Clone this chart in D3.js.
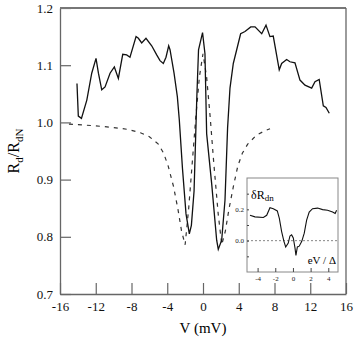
<!DOCTYPE html>
<html>
<head>
<meta charset="utf-8">
<script src="https://cdn.jsdelivr.net/npm/d3@7"></script>
<style>
  body { margin: 0; background: #fff; }
  svg text { font-family: "Liberation Serif", "DejaVu Serif", serif; }
</style>
</head>
<body>
<div id="chart"></div>
<script>
// measured curve, V (mV) and Rd/RdN
const measV = [-14.1, -13.95, -13.6, -13.0, -12.45, -11.97, -11.7, -11.33, -10.96, -10.4, -9.92, -9.47, -8.98, -8.54, -8.17,
  -7.49, -7.23, -6.86, -6.38, -5.74, -5.18, -4.81, -4.44, -4.14, -3.84, -3.69, -3.24, -2.87, -2.65, -2.3, -1.9, -1.53,
  -1.3, -1.0, -0.7, -0.5, -0.05, 0.22, 0.41, 0.97, 1.53, 1.71, 2.09, 2.46, 2.75, 3.02, 3.39, 3.77, 4.21, 4.7, 5.34, 5.82,
  6.57, 7.05, 7.49, 7.86, 8.53, 8.8, 9.36, 9.73, 10.29, 10.85, 11.41, 12.16, 12.53, 13.0, 13.46, 13.76, 14.13];
const measR = [1.068, 1.011, 1.007, 1.039, 1.086, 1.112, 1.086, 1.057, 1.062, 1.086, 1.097, 1.077, 1.119, 1.118, 1.114,
  1.15, 1.147, 1.139, 1.147, 1.134, 1.118, 1.108, 1.103, 1.114, 1.134, 1.127, 1.086, 1.045, 1.004, 0.92, 0.84, 0.805,
  0.82, 0.88, 1.04, 1.127, 1.157, 1.12, 0.98, 0.893, 0.794, 0.778, 0.794, 0.864, 0.99, 1.06, 1.103, 1.127, 1.155, 1.159,
  1.167, 1.167, 1.155, 1.17, 1.15, 1.151, 1.092, 1.103, 1.11, 1.106, 1.104, 1.074, 1.065, 1.06, 1.071, 1.075, 1.029,
  1.026, 1.016];

// calculated curve (dashed)
const calcV = [-15, -14, -12, -10, -8.5, -7, -6, -5, -4.4, -3.9, -3.3, -2.8, -2.4, -2.0, -1.6, -1.2, -0.8, -0.4, 0,
  0.4, 0.8, 1.2, 1.7, 2.1, 2.5, 2.9, 3.4, 3.9, 4.4, 5.0, 6.0, 7.0, 7.5];
const calcR = [0.997, 0.996, 0.994, 0.991, 0.988, 0.982, 0.975, 0.962, 0.946, 0.924, 0.888, 0.848, 0.81, 0.786, 0.85,
  0.93, 1.01, 1.08, 1.12, 1.08, 1.01, 0.93, 0.84, 0.786, 0.81, 0.848, 0.888, 0.924, 0.946, 0.962, 0.978, 0.986, 0.989];

// inset: eV/Delta and dR_dn
const insetX = [-4.86, -4.3, -3.35, -2.97, -2.6, -2.22, -1.77, -1.54, -1.28, -1.02, -0.82, -0.53, -0.34, -0.15, 0.04,
  0.23, 0.34, 0.5, 0.71, 1.0, 1.28, 1.55, 1.84, 2.22, 2.79, 3.36, 3.92, 4.49, 4.78, 4.94];
const insetY = [0.162, 0.152, 0.148, 0.162, 0.21, 0.204, 0.19, 0.142, 0.058, -0.004, -0.04, -0.015, 0.03, 0.037, 0.017,
  -0.046, -0.094, -0.04, -0.035, -0.004, 0.048, 0.131, 0.183, 0.204, 0.208, 0.198, 0.194, 0.183, 0.173, 0.194];

const xTicks = [-16, -12, -8, -4, 0, 4, 8, 12, 16];
const yTicks = [0.7, 0.8, 0.9, 1.0, 1.1, 1.2];
const insetXTicks = [-4, -2, 0, 2, 4];
const insetYTicks = [-0.1, 0, 0.1, 0.2, 0.3];
const insetYLabels = [0, 0.2];

const margin = {top: 8, right: 8, bottom: 48, left: 60};
const W = 354, H = 342;
const width = W - margin.left - margin.right;
const height = H - margin.top - margin.bottom;

const svg = d3.select("#chart").append("svg")
    .attr("width", W)
    .attr("height", H);
const g = svg.append("g")
    .attr("transform", "translate(" + margin.left + "," + margin.top + ")");

const x = d3.scaleLinear().domain([-16, 16]).range([0, width]);
const y = d3.scaleLinear().domain([0.7, 1.2]).range([height, 0]);

const axisCol = "#666";

// x axis, ticks pointing inward
const xAx = g.append("g")
    .attr("transform", "translate(0," + height + ")")
    .call(d3.axisBottom(x).tickValues(xTicks).tickSizeInner(-11).tickSizeOuter(0).tickPadding(6).tickFormat(d3.format("d")));
xAx.select(".domain").attr("stroke", axisCol).attr("stroke-width", 1.3);
xAx.selectAll(".tick line").attr("stroke", axisCol).attr("stroke-width", 1.2);
xAx.selectAll(".tick text").attr("font-size", 13).attr("fill", "#111").attr("dy", "0.9em").attr("y", 5)
    .text(d => d < 0 ? "-" + Math.abs(d) : d);

// y axis
const yAx = g.append("g")
    .call(d3.axisLeft(y).tickValues(yTicks).tickSizeInner(-11).tickSizeOuter(0).tickPadding(7).tickFormat(d3.format(".1f")));
yAx.select(".domain").attr("stroke", axisCol).attr("stroke-width", 1.3);
yAx.selectAll(".tick line").attr("stroke", axisCol).attr("stroke-width", 1.2);
yAx.selectAll(".tick text").attr("font-size", 13).attr("fill", "#111");

// frame top and right
g.append("line").attr("x1", 0).attr("x2", width).attr("y1", 0).attr("y2", 0)
    .attr("stroke", "#777").attr("stroke-width", 2);
g.append("line").attr("x1", width).attr("x2", width).attr("y1", 0).attr("y2", height)
    .attr("stroke", axisCol).attr("stroke-width", 1.3);

const line = d3.line().x(d => x(d[0])).y(d => y(d[1]));

g.append("path")
    .datum(calcV.map((v, i) => [v, calcR[i]]))
    .attr("d", line)
    .attr("fill", "none")
    .attr("stroke", "#333")
    .attr("stroke-width", 1.2)
    .attr("stroke-dasharray", "4,5");

g.append("path")
    .datum(measV.map((v, i) => [v, measR[i]]))
    .attr("d", line)
    .attr("fill", "none")
    .attr("stroke", "#111")
    .attr("stroke-width", 1.3);

// axis titles
svg.append("text")
    .attr("x", margin.left + width / 2)
    .attr("y", 333)
    .attr("text-anchor", "middle")
    .attr("font-size", 15)
    .text("V (mV)");

const yt = svg.append("text")
    .attr("transform", "translate(19," + (margin.top + height / 2) + ") rotate(-90)")
    .attr("text-anchor", "middle")
    .attr("font-size", 16);
yt.append("tspan").text("R");
yt.append("tspan").attr("font-size", 11).attr("dy", 4).text("d");
yt.append("tspan").attr("dy", -4).text("/R");
yt.append("tspan").attr("font-size", 11).attr("dy", 4).text("dN");

// inset
const ib = {x: 247, y: 178, w: 91, h: 94};
const inset = svg.append("g").attr("transform", "translate(" + ib.x + "," + ib.y + ")");
const ix = d3.scaleLinear().domain([-5.2, 5.1]).range([0, ib.w]);
const iy = d3.scaleLinear().domain([-0.2, 0.4]).range([ib.h, 0]);

inset.append("rect").attr("width", ib.w).attr("height", ib.h)
    .attr("fill", "#fff").attr("stroke", "#888").attr("stroke-width", 1);

inset.append("line")
    .attr("x1", 0).attr("x2", ib.w).attr("y1", iy(0)).attr("y2", iy(0))
    .attr("stroke", "#777").attr("stroke-width", 0.9).attr("stroke-dasharray", "2,2");

const ixAx = inset.append("g")
    .attr("transform", "translate(0," + ib.h + ")")
    .call(d3.axisBottom(ix).tickValues(insetXTicks).tickSizeInner(-4).tickSizeOuter(0).tickPadding(4)
        .tickFormat(d => d < 0 ? "-" + Math.abs(d) : d));
ixAx.select(".domain").remove();
ixAx.selectAll(".tick line").attr("stroke", "#444");
ixAx.selectAll(".tick text").attr("font-size", 7).attr("font-family", "DejaVu Sans, sans-serif").attr("fill", "#222");

const iyAx = inset.append("g")
    .call(d3.axisLeft(iy).tickValues(insetYTicks).tickSizeInner(-2).tickSizeOuter(0).tickPadding(3)
        .tickFormat(d => insetYLabels.includes(d) ? d3.format(".1f")(d) : ""));
iyAx.select(".domain").remove();
iyAx.selectAll(".tick line").attr("stroke", "#444");
iyAx.selectAll(".tick text").attr("font-size", 7).attr("font-family", "DejaVu Sans, sans-serif").attr("fill", "#222");

inset.append("path")
    .datum(insetX.map((v, i) => [v, insetY[i]]))
    .attr("d", d3.line().x(d => ix(d[0])).y(d => iy(d[1])))
    .attr("fill", "none")
    .attr("stroke", "#111")
    .attr("stroke-width", 1.1);

const dr = inset.append("text")
    .attr("x", 4).attr("y", 21)
    .attr("font-size", 12)
    .attr("font-family", "Liberation Sans, Arial, sans-serif");
dr.append("tspan").text("\u03b4R");
dr.append("tspan").attr("font-size", 9).attr("dy", 2).text("dn");

inset.append("text")
    .attr("x", ib.w - 2).attr("y", 86)
    .attr("text-anchor", "end")
    .attr("font-size", 11)
    .text("eV / \u0394");
</script>
</body>
</html>
